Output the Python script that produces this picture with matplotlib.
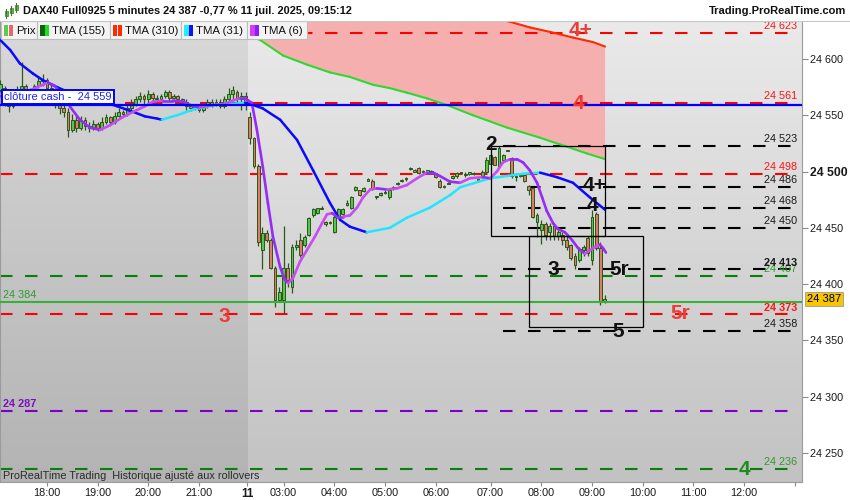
"""DAX40 Full0925, 5-minute bars, 10-11 July 2025 -- ProRealTime-style chart."""

from __future__ import annotations

import matplotlib
matplotlib.use("Agg")
import matplotlib.pyplot as plt
import matplotlib.transforms as mtrans
import numpy as np
from matplotlib.collections import LineCollection
from matplotlib.colors import LinearSegmentedColormap
from matplotlib.lines import Line2D
from matplotlib.patches import Rectangle

plt.rcParams["font.family"] = ["Liberation Sans", "DejaVu Sans"]

W, H = 850, 500

# ---- candles, one entry per 5-min bar ------------------------------------
# bars 0..58 = 10 July 17:05-21:55, bars 59..143 = 11 July 02:15-09:15
OPEN = [
    24572, 24574, 24562, 24558, 24567, 24572, 24576, 24571, 24569, 24576,
    24580, 24581, 24574, 24565, 24560, 24556, 24553, 24537, 24546, 24539,
    24546, 24540, 24539, 24542, 24539, 24544, 24548, 24544, 24549, 24553,
    24551, 24556, 24560, 24564, 24567, 24564, 24569, 24565, 24564, 24567,
    24571, 24565, 24567, 24564, 24562, 24558, 24556, 24558, 24555, 24558,
    24562, 24560, 24562, 24558, 24564, 24569, 24571, 24564, 24567,
    24548, 24530, 24505, 24430, 24445, 24439, 24414, 24386, 24386, 24414,
    24397, 24433, 24439, 24435, 24444, 24461, 24463, 24468, 24455, 24454,
    24446, 24460, 24462, 24470, 24468, 24484, 24484, 24483, 24492, 24492,
    24477, 24479, 24481, 24477, 24485, 24489, 24492, 24493, 24502, 24501,
    24503, 24500, 24500, 24500, 24498, 24492, 24486, 24490, 24494, 24496,
    24499, 24498, 24498, 24498, 24492, 24495, 24500, 24507, 24513, 24504,
    24510, 24518, 24512, 24496, 24496, 24497, 24487, 24485, 24455, 24448,
    24453, 24446, 24452, 24443, 24444, 24439, 24435, 24425, 24421, 24430,
    24441, 24421, 24462, 24432, 24384,
]
CLOSE = [
    24578, 24562, 24558, 24567, 24572, 24576, 24571, 24569, 24576, 24580,
    24581, 24574, 24565, 24560, 24556, 24553, 24537, 24546, 24539, 24546,
    24540, 24539, 24542, 24539, 24544, 24548, 24544, 24549, 24553, 24551,
    24556, 24560, 24564, 24567, 24564, 24569, 24565, 24564, 24567, 24571,
    24565, 24567, 24564, 24562, 24558, 24556, 24558, 24555, 24558, 24562,
    24560, 24562, 24558, 24564, 24569, 24572, 24564, 24567, 24560,
    24530, 24505, 24437, 24445, 24439, 24414, 24386, 24393, 24414, 24404,
    24433, 24435, 24426, 24442, 24459, 24467, 24468, 24467, 24453, 24455,
    24460, 24467, 24467, 24472, 24477, 24486, 24479, 24485, 24493, 24485,
    24478, 24481, 24482, 24484, 24486, 24490, 24492, 24494, 24503, 24500,
    24499, 24500, 24501, 24500, 24495, 24486, 24487, 24489, 24496, 24499,
    24500, 24497, 24500, 24499, 24493, 24500, 24510, 24515, 24506, 24521,
    24515, 24519, 24496, 24495, 24497, 24492, 24484, 24460, 24461, 24453,
    24444, 24452, 24443, 24446, 24439, 24433, 24423, 24417, 24431, 24433,
    24428, 24460, 24432, 24384, 24387,
]
HIGH = [
    24581, 24576, 24564, 24569, 24576, 24597, 24578, 24574, 24578, 24585,
    24587, 24583, 24578, 24569, 24563, 24560, 24556, 24551, 24549, 24549,
    24548, 24544, 24546, 24544, 24548, 24551, 24549, 24553, 24556, 24555,
    24560, 24564, 24567, 24571, 24569, 24572, 24571, 24568, 24569, 24572,
    24572, 24569, 24568, 24565, 24564, 24560, 24560, 24560, 24560, 24564,
    24564, 24564, 24564, 24567, 24574, 24576, 24572, 24571, 24571,
    24553, 24531, 24507, 24451, 24448, 24441, 24416, 24397, 24452, 24419,
    24436, 24439, 24445, 24444, 24460, 24468, 24468, 24469, 24456, 24456,
    24461, 24468, 24468, 24475, 24478, 24487, 24484, 24486, 24494, 24493,
    24478, 24482, 24484, 24484, 24487, 24491, 24493, 24495, 24504, 24502,
    24504, 24501, 24501, 24501, 24499, 24493, 24488, 24491, 24497, 24500,
    24500, 24500, 24500, 24500, 24493, 24501, 24513, 24516, 24514, 24523,
    24516, 24519, 24513, 24499, 24499, 24497, 24488, 24486, 24463, 24457,
    24455, 24454, 24454, 24448, 24446, 24445, 24436, 24428, 24433, 24435,
    24443, 24466, 24464, 24437, 24390,
]
LOW = [
    24571, 24558, 24553, 24556, 24565, 24571, 24567, 24563, 24567, 24574,
    24576, 24572, 24563, 24556, 24551, 24548, 24531, 24535, 24535, 24537,
    24537, 24535, 24537, 24536, 24537, 24542, 24541, 24542, 24548, 24548,
    24549, 24555, 24558, 24562, 24560, 24561, 24562, 24561, 24562, 24565,
    24563, 24564, 24561, 24560, 24555, 24554, 24555, 24553, 24553, 24556,
    24557, 24558, 24556, 24556, 24562, 24564, 24560, 24555, 24555,
    24524, 24503, 24434, 24413, 24437, 24413, 24380, 24384, 24373, 24397,
    24392, 24430, 24424, 24433, 24443, 24460, 24462, 24467, 24452, 24453,
    24445, 24459, 24461, 24469, 24467, 24483, 24478, 24482, 24492, 24484,
    24476, 24478, 24480, 24476, 24484, 24488, 24491, 24492, 24501, 24500,
    24498, 24499, 24500, 24499, 24494, 24485, 24485, 24489, 24493, 24494,
    24498, 24495, 24497, 24497, 24492, 24494, 24500, 24507, 24506, 24504,
    24510, 24518, 24494, 24492, 24495, 24491, 24479, 24459, 24442, 24436,
    24439, 24439, 24439, 24439, 24435, 24430, 24421, 24413, 24420, 24425,
    24425, 24417, 24430, 24381, 24383,
]
LAST_PRICE = 24387
SESSION_BREAK = 58.7          # 10 July -> 11 July

# ---- moving averages at (bar, price) ---------------------------------------
TMA6_BAR = [-0.1, 2.3, 4.6, 7.0, 8.7, 11.3, 12.9, 15.8, 18.8, 21.2, 23.6,
            25.9, 28.8, 31.4, 34.2, 36.1, 38.5, 40.8, 43.2, 45.6, 47.2, 50.3,
            53.1, 55.0, 56.7, 57.9, 59.5, 60.7, 62.1, 63.3, 64.5, 66.2, 67.3,
            68.1, 69.2, 70.9, 72.5, 74.4, 76.1, 77.3, 78.5, 79.6, 81.1, 82.7,
            84.4, 85.8, 87.5, 89.1, 91.5, 93.8, 96.2, 98.6, 100.9, 102.4,
            104.0, 106.4, 108.8, 111.1, 114.2, 115.9, 117.5, 118.9, 120.6,
            122.2, 123.7, 125.3, 127.0, 128.2, 129.3, 130.8, 131.9, 133.6,
            135.3, 136.7, 138.3, 139.5, 140.7, 141.9, 142.6, 143.3]
TMA6_VAL = [24567, 24566, 24568, 24572, 24575, 24579, 24576, 24561, 24546,
            24539, 24537, 24541, 24548, 24553, 24558, 24562, 24563, 24563,
            24562, 24558, 24557, 24559, 24560, 24563, 24565, 24565, 24561,
            24537, 24504, 24472, 24442, 24415, 24404, 24401, 24405, 24420,
            24430, 24442, 24454, 24462, 24463, 24460, 24460, 24461, 24468,
            24477, 24484, 24485, 24484, 24485, 24488, 24494, 24499, 24499,
            24496, 24491, 24490, 24494, 24495, 24494, 24500, 24508, 24511,
            24511, 24508, 24501, 24490, 24477, 24465, 24454, 24449, 24446,
            24439, 24432, 24427, 24430, 24433, 24435, 24432, 24428]
TMA31_BAR = [-0.1, 2.3, 4.6, 7.7, 10.1, 13.4, 15.8, 18.8, 22.4, 25.9, 27.6,
             31.4, 34.2, 37.1, 38.2, 41.8, 45.6, 47.9, 50.8, 54.3, 57.9, 59.1,
             62.1, 66.2, 70.2, 74.0, 78.0, 80.4, 82.7, 86.7, 92.2, 96.2,
             101.7, 106.4, 108.8, 115.9, 123.7, 127.7, 131.7, 135.5, 139.5,
             143.1]
TMA31_VAL = [24617, 24608, 24596, 24587, 24581, 24575, 24571, 24566, 24564,
             24560, 24558, 24553, 24549, 24547, 24546, 24550, 24555, 24557,
             24559, 24560, 24561, 24560, 24556, 24546, 24528, 24501, 24472,
             24457, 24451, 24446, 24450, 24459, 24468, 24479, 24486, 24494,
             24498, 24499, 24495, 24490, 24477, 24466]
TMA155_BAR = [59, 61.4, 66.9, 72.5, 78.0, 82.7, 88.2, 92.2, 96.2, 100.9,
              105.7, 111.8, 119.9, 127.7, 134.1, 138.8, 143.1]
TMA155_VAL = [24620, 24617, 24603, 24595, 24588, 24584, 24577, 24574, 24570,
              24565, 24559, 24550, 24539, 24530, 24522, 24516, 24511]
TMA310_BAR = [59, 78, 97, 111, 120.6, 125.3, 130.1, 135.5, 140.2, 143.1]
TMA310_VAL = [24683, 24667, 24652, 24642, 24633, 24628, 24624, 24619, 24615,
              24611]

# ---- horizontal levels ------------------------------------------------------
DASH_LEVELS = [24623, 24561, 24498, 24373, 24407, 24236, 24287,
               24523, 24486, 24468, 24450, 24413, 24358]
DASH_KIND = ["red"] * 4 + ["green"] * 2 + ["purple"] + ["black"] * 6
DASH_FROM = [0] * 7 + [118.9] * 6
DASH_LABEL_SIDE = ["right"] * 6 + ["left"] + ["right"] * 6
BOLD_LEVELS = [24373, 24413, 24287]
CASH_CLOSE = 24559
GREEN_LEVEL = 24384

# ---- wave labels and boxes --------------------------------------------------
WAVE_TEXT = ["4+", "4", "3", "5r", "2", "4+", "4", "3", "5r", "5", "4"]
WAVE_BAR = [137.2, 136.9, 52.9, 161.0, 116.1, 140.7, 140.0, 130.8, 146.4,
            146.1, 176.0]
WAVE_PRICE = [24625, 24560, 24371, 24374, 24524, 24488, 24470, 24413, 24413,
              24358, 24235]
WAVE_KIND = ["red"] * 4 + ["black"] * 6 + ["green"]
BOX_BAR0 = [116.1, 125.1]
BOX_BAR1 = [143.1, 152.1]
BOX_LOW = [24443, 24362]
BOX_HIGH = [24523, 24443]

TICK_BARS = [11, 23, 35, 47, 58.4, 67, 79, 91, 103, 116, 128, 140, 152, 164,
             176, 188]
TICK_LABELS = ["18:00", "19:00", "20:00", "21:00", "11", "03:00", "04:00",
               "05:00", "06:00", "07:00", "08:00", "09:00", "10:00", "11:00",
               "12:00", ""]
PRICE_TICKS = [24250, 24300, 24350, 24400, 24450, 24500, 24550, 24600]

LINE_COL = {"red": "#ff0000", "green": "#0b7d0b", "purple": "#7d00c8",
            "black": "#000000"}
TEXT_COL = {"red": "#ff1414", "green": "#2f9a2f", "purple": "#7a10c0",
            "black": "#1a1a1a"}
WAVE_COL = {"red": "#ef3b36", "black": "#111111", "green": "#1f8a1f"}
EDGE = "#2c571b"
BULL, BEAR = "#52c848", "#e27a68"

XLIM = (-0.1, 189.7)
YLIM = (24224.2, 24633.7)


def _fx(px: float) -> float:
    return px / W


def _fy(py: float) -> float:
    return 1 - py / H


def _fmt(v: float) -> str:
    v = int(round(v))
    return f"{v // 1000} {v % 1000:03d}"


def _tma(ax, xs, ys, rise, fall, lw, z=4):
    pts = np.column_stack([xs, ys])
    segs = np.stack([pts[:-1], pts[1:]], axis=1)
    cols = [rise if b > a else fall for a, b in zip(ys[:-1], ys[1:])]
    ax.add_collection(LineCollection(segs, colors=cols, linewidths=lw,
                                     capstyle="round", joinstyle="round",
                                     zorder=z))


def _background(ax):
    grad = np.linspace(0, 1, 256)[:, None]
    for x0, x1, top, bot in [(XLIM[0], SESSION_BREAK, "#d9d9d9", "#b3b3b3"),
                             (SESSION_BREAK, XLIM[1], "#eaeaea", "#c2c2c2")]:
        cmap = LinearSegmentedColormap.from_list("bg", [top, bot])
        ax.imshow(grad, extent=(x0, x1, YLIM[0], YLIM[1]), cmap=cmap,
                  aspect="auto", zorder=0, interpolation="bilinear")


def _candles(ax):
    o, c, h, l = (np.asarray(a, float) for a in (OPEN, CLOSE, HIGH, LOW))
    x = np.arange(len(o))
    ax.vlines(x, l, h, color=EDGE, lw=0.9, zorder=3)
    lo = np.minimum(o, c)
    hgt = np.maximum(np.abs(c - o), 0.9)
    cols = [BULL if cc >= oo else BEAR for oo, cc in zip(o, c)]
    ax.bar(x, hgt, 0.66, bottom=lo, color=cols, edgecolor=EDGE,
           linewidth=0.7, zorder=3.1)


def _levels(ax):
    blend = mtrans.blended_transform_factory(ax.transAxes, ax.transData)
    for v, kind, start, side in zip(DASH_LEVELS, DASH_KIND, DASH_FROM,
                                    DASH_LABEL_SIDE):
        ax.plot([start, 188.7], [v, v], color=LINE_COL[kind], lw=1.5,
                dashes=(6.0, 6.0), zorder=2, solid_capstyle="butt",
                dash_capstyle="butt")
        weight = "bold" if v in BOLD_LEVELS else "normal"
        if side == "right":
            ax.text(188.6, v + 3.5, _fmt(v), ha="right", va="baseline",
                    fontsize=7.8, color=TEXT_COL[kind], fontweight=weight,
                    zorder=6)
        else:
            ax.text(0.004, v + 3.5, _fmt(v), transform=blend, ha="left",
                    va="baseline", fontsize=7.8, color=TEXT_COL[kind],
                    fontweight=weight, zorder=6)

    ax.axhline(CASH_CLOSE, color="#0000ff", lw=1.6, zorder=4.5)
    ax.axhline(GREEN_LEVEL, color="#36b336", lw=1.5, zorder=4.5)
    ax.text(0.004, GREEN_LEVEL + 3.5, _fmt(GREEN_LEVEL), transform=blend,
            ha="left", va="baseline", fontsize=7.8, color="#2f9a2f", zorder=6)
    ax.text(0.005, CASH_CLOSE + 2.6, f"clôture cash -  {_fmt(CASH_CLOSE)}",
            transform=blend, ha="left", va="bottom", fontsize=8.0,
            color="#2323ee", zorder=7,
            bbox=dict(boxstyle="square,pad=0.2", fc="white", ec="#0000ff",
                      lw=1.4))


def _annotations(ax):
    for x0, x1, lo, hi in zip(BOX_BAR0, BOX_BAR1, BOX_LOW, BOX_HIGH):
        ax.add_patch(Rectangle((x0, lo), x1 - x0, hi - lo, fill=False,
                               ec="black", lw=0.9, zorder=5))
    for txt, x, y, kind in zip(WAVE_TEXT, WAVE_BAR, WAVE_PRICE, WAVE_KIND):
        ax.text(x, y, txt, ha="center", va="center", fontsize=15,
                fontweight="bold", color=WAVE_COL[kind], zorder=6)


def _axes_style(ax):
    ax.set_xlim(*XLIM)
    ax.set_ylim(*YLIM)
    ax.yaxis.tick_right()
    ax.set_yticks(PRICE_TICKS, [_fmt(v) for v in PRICE_TICKS])
    ax.tick_params(axis="y", length=4, width=0.8, color="#8a8a8a", pad=2,
                   labelsize=7.8, labelcolor="#1a1a1a")
    for lab, v in zip(ax.get_yticklabels(), PRICE_TICKS):
        if v == 24500:
            lab.set_fontweight("bold")
            lab.set_fontsize(8.8)
    ax.set_xticks(TICK_BARS, TICK_LABELS)
    ax.tick_params(axis="x", length=3, width=0.8, color="#8a8a8a", pad=1.5,
                   labelsize=7.8, labelcolor="#1a1a1a")
    for lab, t in zip(ax.get_xticklabels(), TICK_LABELS):
        if t == "11":
            lab.set_fontweight("bold")
            lab.set_fontsize(8.4)
    for side in ("left", "right", "bottom"):
        ax.spines[side].set_color("#9a9a9a")
        ax.spines[side].set_linewidth(0.8)
    ax.spines["top"].set_visible(False)

    blend = mtrans.blended_transform_factory(ax.transAxes, ax.transData)
    ax.text(1.006, LAST_PRICE, _fmt(LAST_PRICE), transform=blend, ha="left",
            va="center", fontsize=8.0, color="black", zorder=8,
            clip_on=False,
            bbox=dict(boxstyle="square,pad=0.2", fc="#f7c600", ec="#9a9a9a",
                      lw=0.6))
    ax.text(0.004, YLIM[0] + 1.2, "ProRealTime Trading  Historique ajusté "
            "aux rollovers", transform=blend, ha="left", va="bottom",
            fontsize=7.8, color="#2a2a2a", zorder=7)


def _header(fig):
    fig.add_artist(Line2D([0, 1], [_fy(20.5), _fy(20.5)], color="#c8c8c8",
                          lw=0.8, transform=fig.transFigure))
    # little candlestick icon
    for cx, top, bot, b0, b1 in [(6, 9, 18, 11, 16), (11, 6, 15, 8, 13),
                                 (16, 3, 12, 5, 10)]:
        fig.add_artist(Line2D([_fx(cx), _fx(cx)], [_fy(top), _fy(bot)],
                              color="#3a7a22", lw=0.8,
                              transform=fig.transFigure))
        fig.add_artist(Rectangle((_fx(cx - 1.5), _fy(b1)), 3 / W,
                                 (b1 - b0) / H, fc="#58c34a", ec="#3a7a22",
                                 lw=0.5, transform=fig.transFigure))
    fig.text(_fx(23), _fy(10.5), "DAX40 Full0925 5 minutes 24 387 -0,77 % "
             "11 juil. 2025, 09:15:12", ha="left", va="center", fontsize=7.9,
             fontweight="bold", color="#111111")
    fig.text(_fx(846), _fy(10.5), "Trading.ProRealTime.com", ha="right",
             va="center", fontsize=8.0, fontweight="bold", color="#111111")

    items = [("Prix", 1, 37, ("#5ccb50", "#e26a6a")),
             ("TMA (155)", 37, 110, ("#0a640a", "#22dd22")),
             ("TMA (310)", 110, 181, ("#ff2a00", "#ff2a00")),
             ("TMA (31)", 181, 247, ("#22eeff", "#1010ff")),
             ("TMA (6)", 247, 307, ("#d040f0", "#8a1cff"))]
    for name, x0, x1, (c1, c2) in items:
        fig.add_artist(Rectangle((_fx(x0), _fy(38.5)), (x1 - x0) / W,
                                 17 / H, fc="#f3f3f3", ec="#bcbcbc", lw=0.8,
                                 transform=fig.transFigure))
        fig.add_artist(Rectangle((_fx(x0 + 3), _fy(35.5)), 4.5 / W, 10 / H,
                                 fc=c1, ec="none", transform=fig.transFigure))
        fig.add_artist(Rectangle((_fx(x0 + 7.5), _fy(35.5)), 4.5 / W, 10 / H,
                                 fc=c2, ec="none", transform=fig.transFigure))
        fig.text(_fx(x0 + 15), _fy(30.5), name, ha="left", va="center",
                 fontsize=8.2, color="#111111")


def main() -> None:
    fig = plt.figure(figsize=(W / 100, H / 100), dpi=100, facecolor="white")
    ax = fig.add_axes([0, 18 / H, 802 / W, 461 / H])
    _background(ax)

    # pink zone between TMA(155) and TMA(310)
    ax.fill(np.r_[TMA155_BAR, TMA310_BAR[::-1]],
            np.r_[TMA155_VAL, TMA310_VAL[::-1]], color="#f6afaf", lw=0,
            zorder=1)

    _levels(ax)
    _candles(ax)
    _tma(ax, TMA310_BAR, TMA310_VAL, "#ff2a00", "#ff2a00", 1.5)
    _tma(ax, TMA155_BAR, TMA155_VAL, "#0a8a0a", "#2fd82f", 1.5)
    _tma(ax, TMA31_BAR, TMA31_VAL, "#22e5ff", "#0a0aff", 1.8)
    _tma(ax, TMA6_BAR, TMA6_VAL, "#c84cf2", "#962cf8", 1.9)
    _annotations(ax)
    _axes_style(ax)
    _header(fig)

    fig.savefig("out.png", dpi=100, facecolor="white")
    plt.close(fig)


if __name__ == "__main__":
    main()
